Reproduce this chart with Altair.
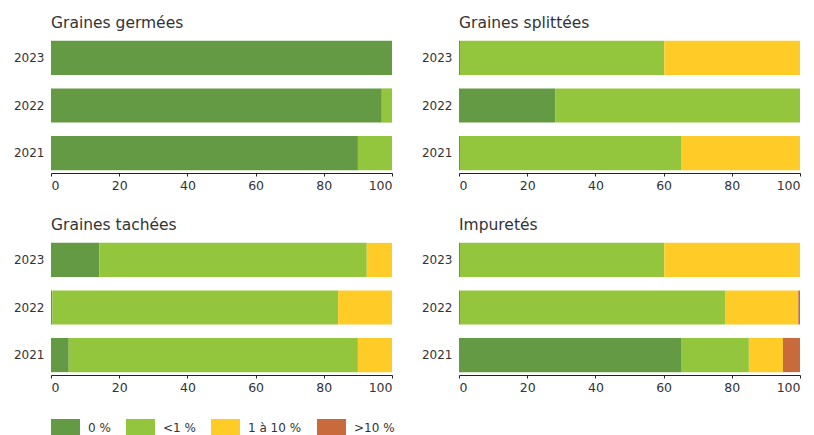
import altair as alt
import pandas as pd

years = ["2021", "2022", "2023"]
classes = ["0 %", "<1 %", "1 à 10 %", ">10 %"]
colors = ["#639a43", "#93c53d", "#fecb27", "#c96a3c"]
panels = ["Graines germées", "Graines splittées", "Graines tachées", "Impuretés"]

# values per class, ordered 2021, 2022, 2023
germees_0 = [90.0, 97.0, 100.0]
germees_lt1 = [10.0, 3.0, 0.0]
germees_1_10 = [0.0, 0.0, 0.0]
germees_gt10 = [0.0, 0.0, 0.0]

splittees_0 = [0.3, 28.2, 0.3]
splittees_lt1 = [64.8, 71.8, 59.9]
splittees_1_10 = [34.9, 0.0, 39.8]
splittees_gt10 = [0.0, 0.0, 0.0]

tachees_0 = [5.2, 0.4, 14.2]
tachees_lt1 = [84.8, 83.8, 78.4]
tachees_1_10 = [10.0, 15.8, 7.4]
tachees_gt10 = [0.0, 0.0, 0.0]

impuretes_0 = [65.1, 0.3, 0.3]
impuretes_lt1 = [19.9, 77.7, 59.9]
impuretes_1_10 = [10.0, 21.5, 39.8]
impuretes_gt10 = [5.0, 0.5, 0.0]

series = {
    "Graines germées": [germees_0, germees_lt1, germees_1_10, germees_gt10],
    "Graines splittées": [splittees_0, splittees_lt1, splittees_1_10, splittees_gt10],
    "Graines tachées": [tachees_0, tachees_lt1, tachees_1_10, tachees_gt10],
    "Impuretés": [impuretes_0, impuretes_lt1, impuretes_1_10, impuretes_gt10],
}

rows = []
for p in panels:
    for ci, cls in enumerate(classes):
        for yi, yr in enumerate(years):
            rows.append({"panel": p, "year": yr, "cls": cls, "idx": ci,
                         "value": series[p][ci][yi]})
df = pd.DataFrame(rows)

FONT = "DejaVu Sans"
TXT = "#333333"


def panel(name):
    d = df[df.panel == name]
    return alt.Chart(d).mark_bar().encode(
        x=alt.X("value:Q", stack="zero",
                scale=alt.Scale(domain=[0, 100], nice=False),
                axis=alt.Axis(values=[0, 20, 40, 60, 80, 100], title=None, grid=False,
                              domainColor="#222222", tickColor="#222222", tickSize=3,
                              labelFontSize=12.5, labelColor=TXT, labelFont=FONT,
                              labelPadding=3)),
        y=alt.Y("year:N", sort=["2023", "2022", "2021"],
                scale=alt.Scale(paddingInner=0.28, paddingOuter=0.06),
                axis=alt.Axis(title=None, domain=False, ticks=False, labelPadding=7,
                              labelFontSize=12, labelColor=TXT, labelFont=FONT)),
        color=alt.Color("cls:N", scale=alt.Scale(domain=classes, range=colors),
                        legend=alt.Legend(title=None, orient="bottom", direction="horizontal",
                                          symbolType="M-1,-0.586L1,-0.586L1,0.586L-1,0.586Z",
                                          symbolSize=841, symbolStrokeWidth=0,
                                          labelFontSize=12, labelFont=FONT, labelColor=TXT,
                                          labelOffset=8, columnPadding=15, offset=19)),
        order=alt.Order("idx:Q"),
    ).properties(width=341, height=135,
                 title=alt.TitleParams(name, anchor="start", frame="group", fontSize=15.5,
                                       font=FONT, fontWeight="normal", color=TXT, offset=7))


top = alt.hconcat(panel(panels[0]), panel(panels[1]), spacing=28)
bottom = alt.hconcat(panel(panels[2]), panel(panels[3]), spacing=28)
chart = alt.vconcat(top, bottom, spacing=25).properties(
    padding={"left": 5, "top": 7, "right": 0, "bottom": 0}
).configure_view(stroke=None)

chart.save("out.html", embed_options={"renderer": "svg", "actions": False})
